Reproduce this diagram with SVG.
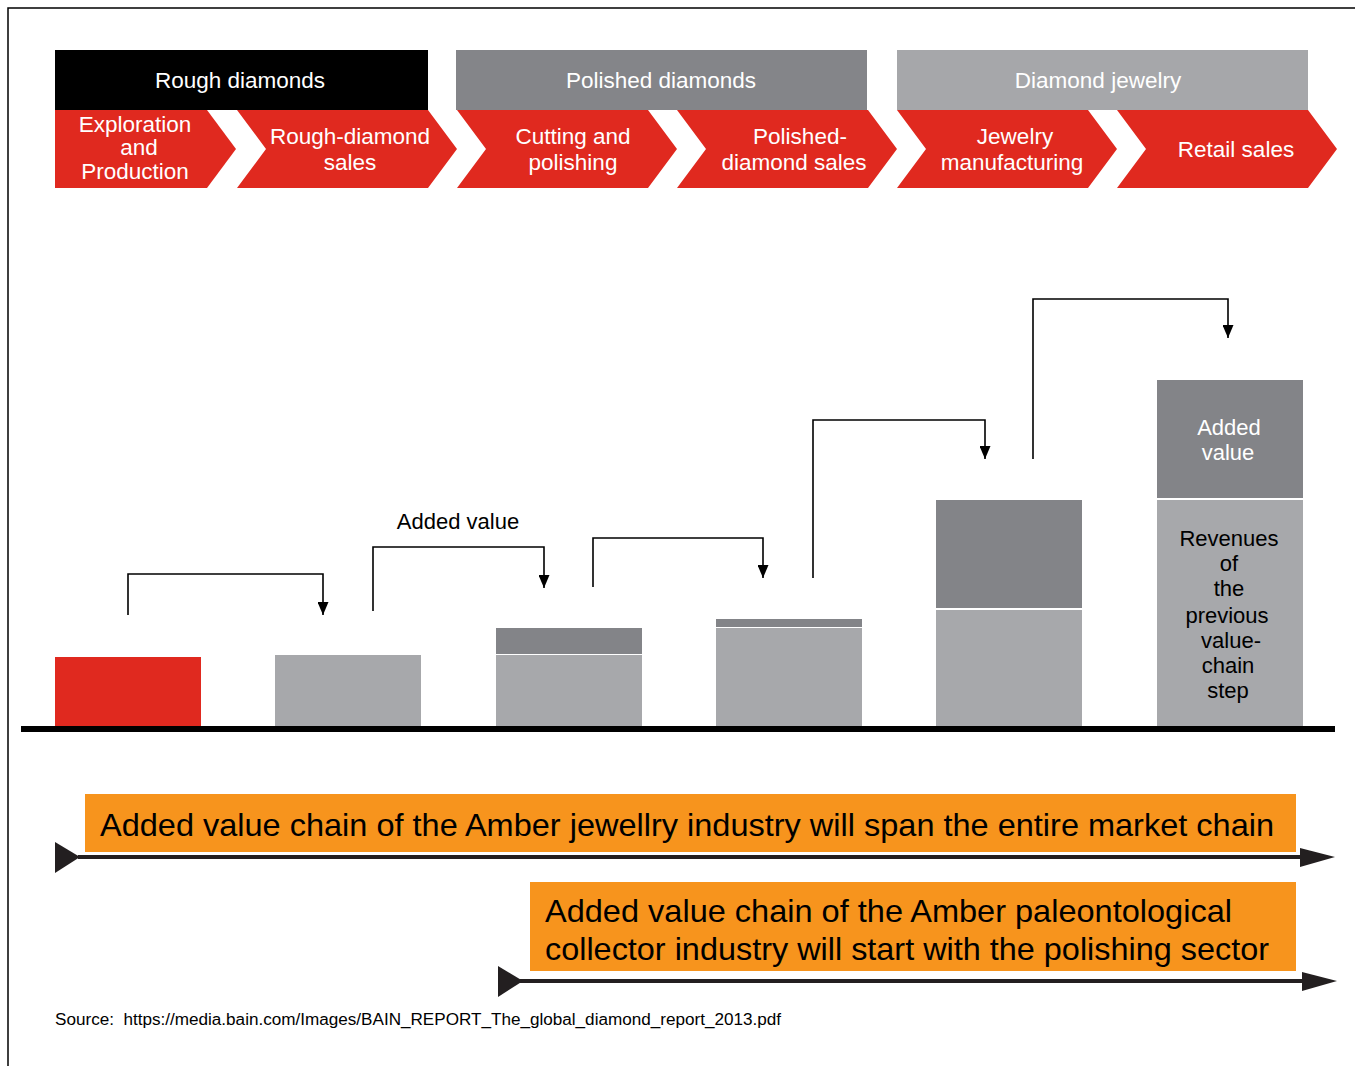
<svg xmlns="http://www.w3.org/2000/svg" width="1355" height="1066" viewBox="0 0 1355 1066">
  <defs>
    <style>
      .hdr { font-family: "Liberation Sans", Arial, sans-serif; font-size: 22.5px; fill: #ffffff; text-anchor: middle; }
      .chev { fill: #e0291f; }
      .lbl { font-family: "Liberation Sans", Arial, sans-serif; font-size: 22px; text-anchor: middle; }
      .white { fill: #ffffff; }
      .black { fill: #000000; }
      .red { fill: #e0291f; }
      .dark { fill: #838488; }
      .light { fill: #a7a8ab; }
      .conn { fill: none; stroke: #000000; stroke-width: 1.6; }
      .banner { fill: #f7941d; }
      .btext { font-family: "Liberation Sans", Arial, sans-serif; font-size: 32px; fill: #000000; }
      .span { stroke: #231f20; stroke-width: 4; }
      .tri { fill: #231f20; }
      .src { font-family: "Liberation Sans", Arial, sans-serif; font-size: 16px; fill: #000000; white-space: pre; }
    </style>
    <marker id="tip" viewBox="0 0 13 11" refX="13" refY="5.5" markerWidth="13" markerHeight="11" markerUnits="userSpaceOnUse" orient="auto">
      <path d="M0,0 L13,5.5 L0,11 Z" fill="#000000"/>
    </marker>
  </defs>

  <rect width="1355" height="1066" fill="#ffffff"/>
  <!-- frame: only the top and left edges fall inside the page -->
  <path d="M8,1066 V8 H1355" fill="none" stroke="#000000" stroke-width="1.5"/>

  <!-- stage headers -->
  <g id="hdr-rough">
    <rect x="55" y="50" width="373" height="60" fill="#000000"/>
    <text class="hdr" x="240" y="88">Rough diamonds</text>
  </g>
  <g id="hdr-polished">
    <rect x="456" y="50" width="411" height="60" fill="#848589"/>
    <text class="hdr" x="661" y="88">Polished diamonds</text>
  </g>
  <g id="hdr-jewelry">
    <rect x="897" y="50" width="411" height="60" fill="#a6a7aa"/>
    <text class="hdr" x="1098" y="88">Diamond jewelry</text>
  </g>

  <!-- value-chain steps -->
  <g id="step-exploration">
    <path class="chev" d="M55,110 H207 L236,149 L207,188 H55 Z"/>
    <text class="hdr" x="135" y="132">Exploration</text>
    <text class="hdr" x="139" y="155">and</text>
    <text class="hdr" x="135" y="179">Production</text>
  </g>
  <g id="step-rough-sales">
    <path class="chev" d="M237,110 H428 L457,149 L428,188 H237 L266,149 Z"/>
    <text class="hdr" x="350" y="144">Rough-diamond</text>
    <text class="hdr" x="350" y="170">sales</text>
  </g>
  <g id="step-cutting">
    <path class="chev" d="M457,110 H648 L677,149 L648,188 H457 L486,149 Z"/>
    <text class="hdr" x="573" y="144">Cutting and</text>
    <text class="hdr" x="573" y="170">polishing</text>
  </g>
  <g id="step-polished-sales">
    <path class="chev" d="M677,110 H868 L897,149 L868,188 H677 L706,149 Z"/>
    <text class="hdr" x="800" y="144">Polished-</text>
    <text class="hdr" x="794" y="170">diamond sales</text>
  </g>
  <g id="step-manufacturing">
    <path class="chev" d="M897,110 H1088 L1117,149 L1088,188 H897 L926,149 Z"/>
    <text class="hdr" x="1015" y="144">Jewelry</text>
    <text class="hdr" x="1012" y="170">manufacturing</text>
  </g>
  <g id="step-retail">
    <path class="chev" d="M1117,110 H1308 L1337,149 L1308,188 H1117 L1146,149 Z"/>
    <text class="hdr" x="1236" y="157">Retail sales</text>
  </g>

  <!-- value bars -->
  <g id="bar-1">
    <rect class="red" x="55" y="657" width="146" height="70"/>
  </g>
  <g id="bar-2">
    <rect class="light" x="275" y="655" width="146" height="72"/>
  </g>
  <g id="bar-3">
    <rect class="dark" x="496" y="628" width="146" height="26"/>
    <rect class="light" x="496" y="655" width="146" height="72"/>
  </g>
  <g id="bar-4">
    <rect class="dark" x="716" y="619" width="146" height="8"/>
    <rect class="light" x="716" y="628" width="146" height="99"/>
  </g>
  <g id="bar-5">
    <rect class="dark" x="936" y="500" width="146" height="108"/>
    <rect class="light" x="936" y="610" width="146" height="117"/>
  </g>
  <g id="bar-6">
    <rect class="dark" x="1157" y="380" width="146" height="118"/>
    <rect class="light" x="1157" y="500" width="146" height="227"/>
    <text class="lbl white" x="1229" y="435">Added</text>
    <text class="lbl white" x="1228" y="460">value</text>
    <text class="lbl black" x="1229" y="546">Revenues</text>
    <text class="lbl black" x="1229" y="571">of</text>
    <text class="lbl black" x="1229" y="596">the</text>
    <text class="lbl black" x="1227" y="623">previous</text>
    <text class="lbl black" x="1231" y="648">value-</text>
    <text class="lbl black" x="1228" y="673">chain</text>
    <text class="lbl black" x="1228" y="698">step</text>
  </g>

  <!-- baseline -->
  <rect x="21" y="726" width="1314" height="6" fill="#000000"/>

  <!-- added-value connectors -->
  <g id="connectors">
    <path class="conn" d="M128,615 V574 H323 V615" marker-end="url(#tip)"/>
    <path class="conn" d="M373,611 V547 H544 V588" marker-end="url(#tip)"/>
    <path class="conn" d="M593,587 V538 H763 V578" marker-end="url(#tip)"/>
    <path class="conn" d="M813,578 V420 H985 V459" marker-end="url(#tip)"/>
    <path class="conn" d="M1033,459 V299 H1228 V338" marker-end="url(#tip)"/>
  </g>
  <text class="lbl black" x="458" y="529">Added value</text>

  <!-- amber jewellry span -->
  <g id="span-jewellry">
    <rect class="banner" x="85" y="794" width="1211" height="58"/>
    <text class="btext" x="100" y="836" textLength="1174" lengthAdjust="spacingAndGlyphs">Added value chain of the Amber jewellry industry will span the entire market chain</text>
    <line class="span" x1="78" y1="857" x2="1302" y2="857"/>
    <path class="tri" d="M55,842 L80,857 L55,873 Z"/>
    <path class="tri" d="M1300,848 L1335,857 L1300,867 Z"/>
  </g>

  <!-- amber collector span -->
  <g id="span-collector">
    <rect class="banner" x="530" y="882" width="766" height="89"/>
    <text class="btext" x="545" y="922" textLength="687" lengthAdjust="spacingAndGlyphs">Added value chain of the Amber paleontological</text>
    <text class="btext" x="545" y="960" textLength="724" lengthAdjust="spacingAndGlyphs">collector industry will start with the polishing sector</text>
    <line class="span" x1="520" y1="981" x2="1304" y2="981"/>
    <path class="tri" d="M498,966 L523,981 L498,997 Z"/>
    <path class="tri" d="M1302,972 L1337,981 L1302,991 Z"/>
  </g>

  <text class="src" x="55" y="1025" textLength="726" lengthAdjust="spacingAndGlyphs">Source:&#160; https://media.bain.com/Images/BAIN_REPORT_The_global_diamond_report_2013.pdf</text>
</svg>
